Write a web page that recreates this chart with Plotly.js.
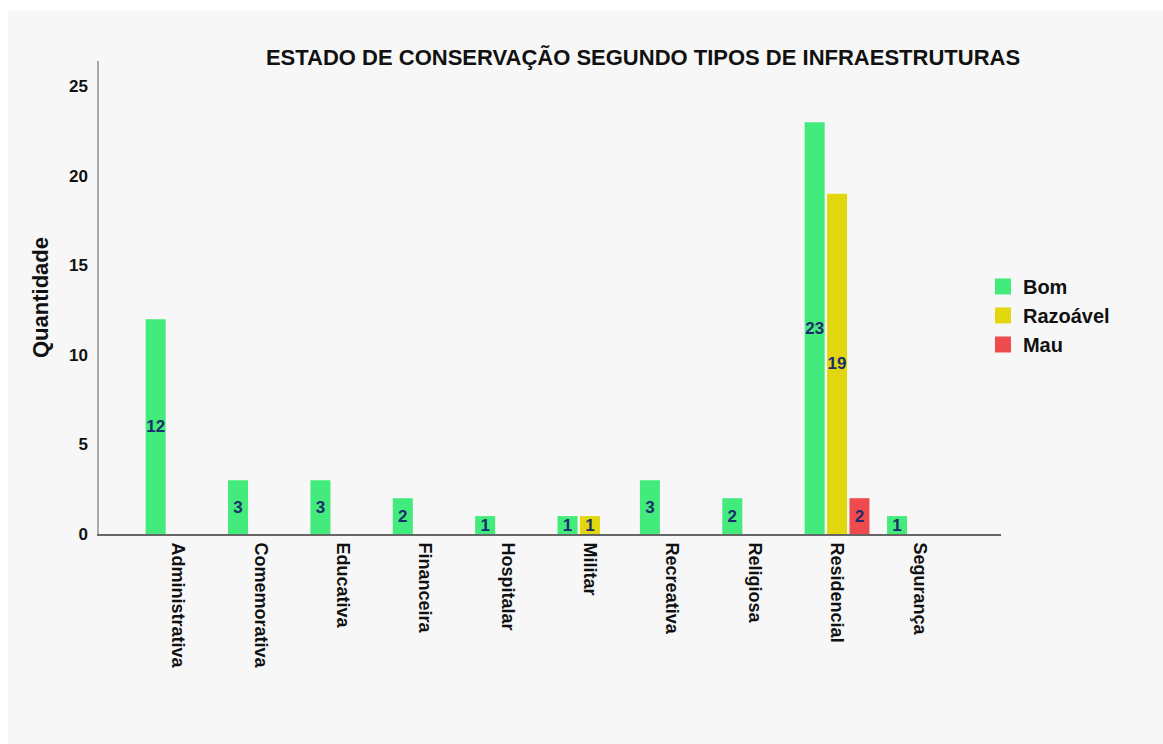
<!DOCTYPE html>
<html>
<head>
<meta charset="utf-8">
<script src="https://cdn.plot.ly/plotly-3.0.1.min.js"></script>
<style>
  html, body { margin: 0; padding: 0; background: #ffffff; }
  #chart { position: absolute; left: 8px; top: 11px; width: 1155px; height: 733px; }
</style>
</head>
<body>
<div id="chart"></div>
<script>
const categories = ["Administrativa", "Comemorativa", "Educativa", "Financeira", "Hospitalar",
                    "Militar", "Recreativa", "Religiosa", "Residencial", "Segurança"];
const seriesNames = ["Bom", "Razoável", "Mau"];
const bom      = [12, 3, 3, 2, 1, 1, 3, 2, 23, 1];
const razoavel = [0, 0, 0, 0, 0, 1, 0, 0, 19, 0];
const mau      = [0, 0, 0, 0, 0, 0, 0, 0, 2, 0];
const yTicks   = [0, 5, 10, 15, 20, 25];

const colors = ["#42eb7b", "#e2d70f", "#ef4b4e"];
const FONT = "Liberation Sans, Arial, sans-serif";
const series = [bom, razoavel, mau];

const traces = [];
series.forEach((vals, i) => {
  traces.push({
    type: "bar",
    x: categories,
    y: vals,
    name: seriesNames[i],
    showlegend: false,
    marker: { color: colors[i], line: { width: 0 } },
    text: vals.map(v => v > 0 ? String(v) : ""),
    textposition: "inside",
    insidetextanchor: "middle",
    textangle: 0,
    constraintext: "none",
    textfont: { family: FONT, size: 17, weight: "bold", color: "#1c2d6e" },
    hoverinfo: "x+y+name"
  });
});
// legend entries (square swatches)
series.forEach((vals, i) => {
  traces.push({
    type: "scatter",
    mode: "markers",
    x: [null], y: [null],
    name: seriesNames[i],
    marker: { symbol: "square", size: 16, color: colors[i] },
    showlegend: true,
    hoverinfo: "skip"
  });
});

const layout = {
  width: 1155, height: 733,
  paper_bgcolor: "#f7f7f7",
  plot_bgcolor: "#f7f7f7",
  margin: { l: 91, r: 162, t: 50, b: 210 },
  barmode: "group",
  bargap: 0.184,
  bargroupgap: 0.107,
  font: { family: FONT, color: "#000000" },
  title: {
    text: "ESTADO DE CONSERVAÇÃO SEGUNDO TIPOS DE INFRAESTRUTURAS",
    font: { family: FONT, size: 22, weight: "bold", color: "#111111" },
    xref: "container", x: 0.5498, xanchor: "center",
    yref: "container", y: 0.937, yanchor: "middle"
  },
  xaxis: {
    type: "category",
    range: [-0.96, 9.99],
    showgrid: false, zeroline: false,
    showline: true, linecolor: "#666666", linewidth: 2,
    ticks: "", tickangle: 90,
    ticklabelstandoff: 3,
    tickfont: { family: FONT, size: 18, weight: "bold", color: "#111111" }
  },
  yaxis: {
    range: [0, 26.42],
    tickvals: yTicks,
    ticktext: yTicks.map(String),
    showgrid: false, zeroline: false,
    showline: true, linecolor: "#aaaaaa", linewidth: 1.5,
    ticks: "",
    ticklabelstandoff: 6,
    tickfont: { family: FONT, size: 17, weight: "bold", color: "#111111" },
    title: {
      text: "Quantidade",
      font: { family: FONT, size: 22, weight: "bold", color: "#111111" },
      standoff: 14
    }
  },
  legend: {
    x: 0.98, xanchor: "left",
    y: 0.462, yanchor: "middle",
    bgcolor: "rgba(0,0,0,0)",
    borderwidth: 0,
    itemwidth: 30,
    font: { family: FONT, size: 20, weight: "bold", color: "#111111" },
    tracegroupgap: 0
  },
  showlegend: true
};

Plotly.newPlot("chart", traces, layout, { displayModeBar: false, responsive: false });
</script>
</body>
</html>
